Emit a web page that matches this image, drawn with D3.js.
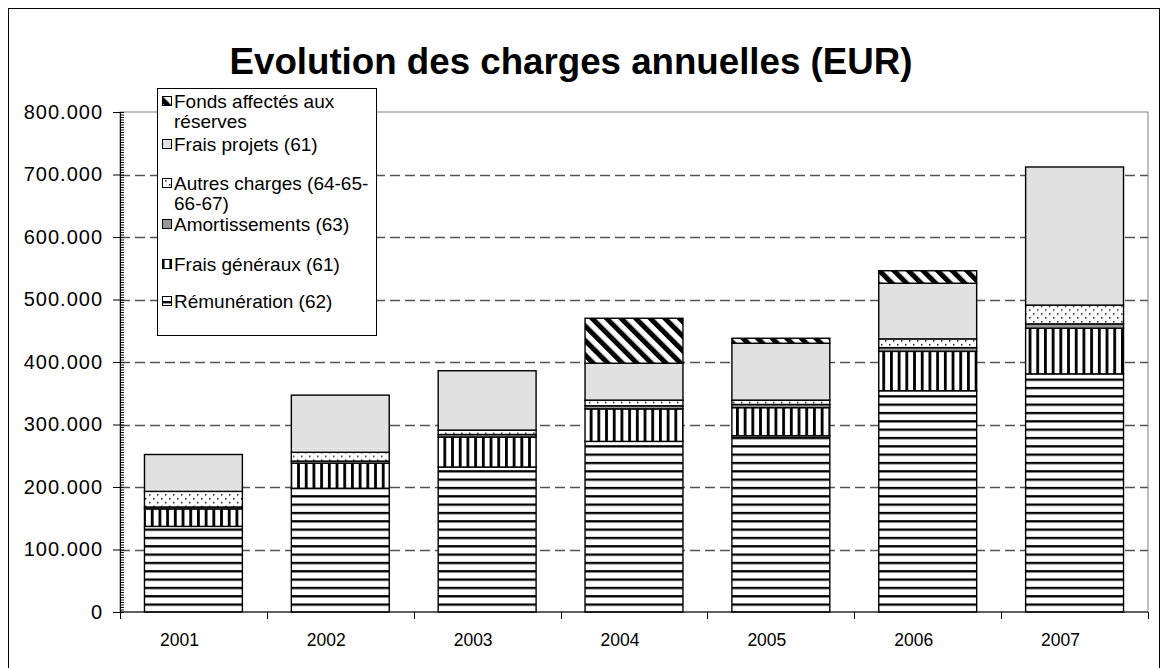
<!DOCTYPE html>
<html>
<head>
<meta charset="utf-8">
<script src="https://cdn.jsdelivr.net/npm/d3@7"></script>
<style>
  body { margin: 0; background: #fff; }
  text { font-family: "Liberation Sans", Arial, sans-serif; fill: #000; }
</style>
</head>
<body>
<svg width="1168" height="668"></svg>
<script>
// DATA ------------------------
var years = ["2001", "2002", "2003", "2004", "2005", "2006", "2007"];
var remuneration   = [137000, 198000, 232000, 273000, 282000, 354000, 381000];
var fraisGeneraux  = [28000, 40000, 48000, 52000, 45000, 63000, 73000];
var amortissements = [3000, 3500, 4000, 5000, 5000, 6000, 7000];
var autresCharges  = [25000, 14000, 7000, 9000, 7000, 14000, 30000];
var fraisProjets   = [59000, 91500, 95000, 59000, 91000, 89000, 221000];
var fondsReserves  = [0, 0, 0, 72000, 8000, 20000, 0];
var yTicks = [0, 100000, 200000, 300000, 400000, 500000, 600000, 700000, 800000];

// series, bottom to top
var series = [
  {key: "rem",    label: ["Rémunération (62)"],                 values: remuneration},
  {key: "fg",     label: ["Frais généraux (61)"],               values: fraisGeneraux},
  {key: "amort",  label: ["Amortissements (63)"],               values: amortissements},
  {key: "autres", label: ["Autres charges (64-65-", "66-67)"],  values: autresCharges},
  {key: "proj",   label: ["Frais projets (61)"],                values: fraisProjets},
  {key: "fonds",  label: ["Fonds affectés aux", "réserves"],    values: fondsReserves}
];

var svg = d3.select("svg"),
    margin = {top: 112, right: 20, bottom: 56, left: 120},
    width = +svg.attr("width") - margin.left - margin.right,
    height = +svg.attr("height") - margin.top - margin.bottom;

// outer frame
svg.append("rect")
    .attr("x", 8.5).attr("y", 8.5)
    .attr("width", 1151).attr("height", 700)
    .attr("fill", "none").attr("stroke", "#000").attr("stroke-width", 1);

// title
svg.append("text")
    .attr("x", 571).attr("y", 74)
    .attr("text-anchor", "middle")
    .attr("font-size", "36.7px").attr("font-weight", "bold")
    .text("Evolution des charges annuelles (EUR)");

// PATTERNS ------------------------
var defs = svg.append("defs");

var p = defs.append("pattern").attr("id", "p-rem")
    .attr("patternUnits", "userSpaceOnUse").attr("width", 8).attr("height", 8.33);
p.append("rect").attr("width", 8).attr("height", 8.33).attr("fill", "#fff");
p.append("rect").attr("y", 0).attr("width", 8).attr("height", 2.3).attr("fill", "#000");

p = defs.append("pattern").attr("id", "p-fg")
    .attr("patternUnits", "userSpaceOnUse").attr("width", 7.7).attr("height", 8);
p.append("rect").attr("width", 7.7).attr("height", 8).attr("fill", "#fff");
p.append("rect").attr("x", 0).attr("width", 2.8).attr("height", 8).attr("fill", "#000");

p = defs.append("pattern").attr("id", "p-autres")
    .attr("patternUnits", "userSpaceOnUse").attr("width", 8).attr("height", 7.7);
p.append("rect").attr("width", 8).attr("height", 7.7).attr("fill", "#fff");
p.append("rect").attr("x", 1).attr("y", 1).attr("width", 1.5).attr("height", 1.5).attr("fill", "#222");
p.append("rect").attr("x", 5).attr("y", 4.85).attr("width", 1.5).attr("height", 1.5).attr("fill", "#222");

p = defs.append("pattern").attr("id", "p-fonds")
    .attr("patternUnits", "userSpaceOnUse").attr("width", 10.3).attr("height", 10)
    .attr("patternTransform", "rotate(-45)");
p.append("rect").attr("width", 10.3).attr("height", 10).attr("fill", "#fff");
p.append("rect").attr("width", 5).attr("height", 10).attr("fill", "#000");

var fills = {
  rem: "url(#p-rem)",
  fg: "url(#p-fg)",
  amort: "#969696",
  autres: "url(#p-autres)",
  proj: "#e1e1e1",
  fonds: "url(#p-fonds)"
};

// SCALES ------------------------
var x = d3.scaleBand()
    .domain(years)
    .range([0, width])
    .paddingInner(1 / 3)
    .paddingOuter(1 / 6);

var y = d3.scaleLinear()
    .domain([0, 800000])
    .range([height, 0]);

var locale = d3.formatLocale({decimal: ",", thousands: ".", grouping: [3], currency: ["", " €"]});
var fmt = locale.format(",d");

var chart = svg.append("g")
    .attr("transform", "translate(" + margin.left + "," + margin.top + ")");

// plot area border (grey)
chart.append("rect")
    .attr("x", 0).attr("y", 0)
    .attr("width", width).attr("height", height)
    .attr("fill", "none").attr("stroke", "#808080").attr("stroke-width", 1);

// dashed gridlines
chart.selectAll(".grid")
    .data(yTicks.filter(function(d) { return d > 0 && d < 800000; }))
  .enter().append("line")
    .attr("class", "grid")
    .attr("x1", 0).attr("x2", width)
    .attr("y1", function(d) { return Math.round(y(d)) + 0.5; })
    .attr("y2", function(d) { return Math.round(y(d)) + 0.5; })
    .attr("stroke", "#555")
    .attr("stroke-width", 1.3)
    .attr("stroke-dasharray", "10,5");

// stack the series
var stacked = d3.stack()
    .keys(series.map(function(s) { return s.key; }))
    .value(function(d, key) { return d[key]; })(
      years.map(function(yr, i) {
        var row = {year: yr};
        series.forEach(function(s) { row[s.key] = s.values[i]; });
        return row;
      }));

var layers = chart.selectAll(".layer")
    .data(stacked)
  .enter().append("g")
    .attr("class", "layer");

layers.selectAll("rect")
    .data(function(layer) {
      return layer.map(function(d) { return {key: layer.key, y0: d[0], y1: d[1], year: d.data.year}; })
        .filter(function(d) { return d.y1 > d.y0; });
    })
  .enter().append("rect")
    .attr("x", function(d) { return x(d.year); })
    .attr("y", function(d) { return y(d.y1); })
    .attr("width", x.bandwidth())
    .attr("height", function(d) { return y(d.y0) - y(d.y1); })
    .attr("fill", function(d) { return fills[d.key]; })
    .attr("stroke", "#000")
    .attr("stroke-width", 1.4);

// AXES ------------------------
// minor ticks inside
chart.append("g")
    .attr("class", "y minor")
    .call(d3.axisRight(y).tickValues(d3.range(0, 800001, 4000)).tickSize(4).tickFormat(""))
    .call(function(g) { g.select(".domain").remove(); })
    .selectAll("line").attr("stroke", "#000");

var yAxis = chart.append("g")
    .attr("class", "y axis")
    .call(d3.axisLeft(y).tickValues(yTicks).tickSize(7).tickPadding(10).tickFormat(fmt));
yAxis.selectAll("text")
    .attr("font-size", "20px")
    .attr("letter-spacing", "1px")
    .attr("font-family", "Liberation Sans, Arial, sans-serif");
yAxis.select(".domain").attr("stroke", "#000");

// x axis line and ticks at category boundaries
chart.append("line")
    .attr("x1", 0).attr("x2", width)
    .attr("y1", height).attr("y2", height)
    .attr("stroke", "#000");

var step = x.step();
chart.selectAll(".xtick")
    .data(d3.range(years.length + 1))
  .enter().append("line")
    .attr("class", "xtick")
    .attr("x1", function(i) { return Math.round(i * step) + 0.5; })
    .attr("x2", function(i) { return Math.round(i * step) + 0.5; })
    .attr("y1", height).attr("y2", height + 7)
    .attr("stroke", "#000");

// labels sit a little left of the bar centres, as in the original
chart.selectAll(".xlabel")
    .data(years)
  .enter().append("text")
    .attr("class", "xlabel")
    .attr("x", function(d) { return x(d) + x.bandwidth() / 2 - 14; })
    .attr("y", height + 34)
    .attr("text-anchor", "middle")
    .attr("font-size", "17.5px")
    .text(function(d) { return d; });

// LEGEND ------------------------
var legendRows = [101, 144, 183, 224, 264, 301];  // first-line centre of each entry, top to bottom
var legend = svg.append("g").attr("class", "legend");

legend.append("rect")
    .attr("x", 157.5).attr("y", 88.5)
    .attr("width", 219).attr("height", 247)
    .attr("fill", "#fff").attr("stroke", "#000").attr("stroke-width", 1);

var entries = legend.selectAll(".entry")
    .data(series.slice().reverse())
  .enter().append("g")
    .attr("class", "entry")
    .attr("transform", function(d, i) { return "translate(0," + legendRows[i] + ")"; });

entries.append("rect")
    .attr("x", 162.5).attr("y", -4.5)
    .attr("width", 9).attr("height", 9)
    .attr("fill", function(d) { return fills[d.key]; })
    .attr("stroke", "#000").attr("stroke-width", 1);

entries.append("text")
    .attr("x", 174)
    .attr("y", 7)
    .attr("font-size", "19px")
    .selectAll("tspan")
    .data(function(d) { return d.label; })
  .enter().append("tspan")
    .attr("x", 174)
    .attr("dy", function(d, i) { return i ? 20 : 0; })
    .text(function(d) { return d; });
</script>
</body>
</html>
